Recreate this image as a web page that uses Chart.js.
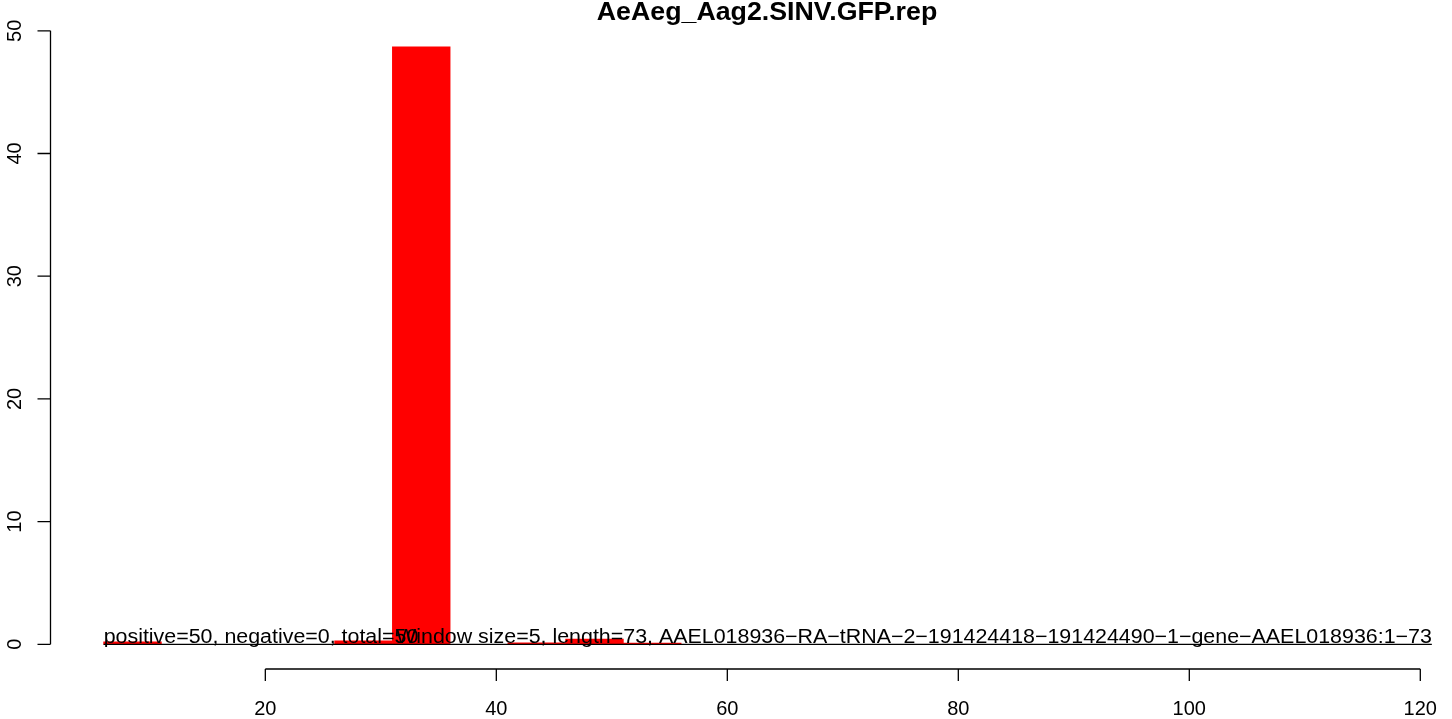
<!DOCTYPE html>
<html>
<head>
<meta charset="utf-8">
<script src="https://cdn.jsdelivr.net/npm/chart.js@4"></script>
<style>
  html, body { margin: 0; padding: 0; background: #fff; }
  #wrap { width: 1452px; height: 719px; }
</style>
</head>
<body>
<div id="wrap"><canvas id="chart" width="1452" height="719"></canvas></div>
<script>
// window start positions (size 5) and read counts per window
const windowStart = [6, 26, 31, 41, 46, 51];
const counts = [0.21, 0.29, 48.7, 0.12, 0.43, 0.1];
const windowSize = 5;
const seqEnd = 121;
const xTicks = [20, 40, 60, 80, 100, 120];
const yTicks = [0, 10, 20, 30, 40, 50];
const titleText = 'AeAeg_Aag2.SINV.GFP.rep';
const noteLeft = 'positive=50, negative=0, total=50';
const noteRight = 'Window size=5, length=73, AAEL018936\u2212RA\u2212tRNA\u22122\u2212191424418\u2212191424490\u22121\u2212gene\u2212AAEL018936:1\u221273';

const FONT = "'Liberation Sans', Arial, Helvetica, sans-serif";

const barData = windowStart.map((s, i) => ({ x: s + windowSize / 2, y: counts[i] }));

// text drawn slightly widened, like the original device font
function wideText(ctx, text, x, y, align, sx) {
    ctx.save();
    ctx.translate(x, y);
    ctx.scale(sx, 1);
    ctx.textAlign = align;
    ctx.fillText(text, 0, 0);
    ctx.restore();
}

// R-style axes, title and notes drawn on top using the chart scales
const rStyle = {
    id: 'rStyle',
    afterDatasetsDraw(chart) {
        const ctx = chart.ctx;
        const xs = chart.scales.x, ys = chart.scales.y;
        const left = chart.chartArea.left;
        ctx.save();
        ctx.strokeStyle = '#000';
        ctx.fillStyle = '#000';
        ctx.lineWidth = 1.3;

        // y axis
        const y0 = ys.getPixelForValue(yTicks[0]);
        const y1 = ys.getPixelForValue(yTicks[yTicks.length - 1]);
        ctx.beginPath();
        ctx.moveTo(left, y0); ctx.lineTo(left, y1);
        yTicks.forEach(t => {
            const p = ys.getPixelForValue(t);
            ctx.moveTo(left, p); ctx.lineTo(left - 13, p);
        });
        ctx.stroke();
        ctx.font = '20px ' + FONT;
        ctx.textAlign = 'center';
        ctx.textBaseline = 'alphabetic';
        yTicks.forEach(t => {
            const p = ys.getPixelForValue(t);
            ctx.save();
            ctx.translate(left - 30, p);
            ctx.rotate(-Math.PI / 2);
            ctx.fillText(String(t), 0, 0);
            ctx.restore();
        });

        // x axis
        const axisY = 669;
        ctx.beginPath();
        ctx.moveTo(xs.getPixelForValue(xTicks[0]), axisY);
        ctx.lineTo(xs.getPixelForValue(xTicks[xTicks.length - 1]), axisY);
        xTicks.forEach(t => {
            const p = xs.getPixelForValue(t);
            ctx.moveTo(p, axisY); ctx.lineTo(p, axisY + 12);
        });
        ctx.stroke();
        xTicks.forEach(t => {
            ctx.fillText(String(t), xs.getPixelForValue(t), 715);
        });

        // notes along the baseline
        const base = ys.getPixelForValue(0) - 1;
        ctx.font = '20px ' + FONT;
        wideText(ctx, noteLeft, xs.getPixelForValue(windowStart[0]), base, 'left', 1.07);
        wideText(ctx, noteRight, xs.getPixelForValue(seqEnd), base, 'right', 1.07);

        // title
        ctx.font = 'bold 25px ' + FONT;
        wideText(ctx, titleText, 767, 20, 'center', 1.07);
        ctx.restore();
    }
};

new Chart(document.getElementById('chart'), {
    type: 'bar',
    data: {
        datasets: [{
            type: 'line',
            data: [{ x: windowStart[0], y: 0 }, { x: seqEnd, y: 0 }],
            borderColor: '#000',
            borderWidth: 1.2,
            pointRadius: 0,
            clip: false,
            order: 0
        }, {
            data: barData,
            backgroundColor: '#ff0000',
            borderWidth: 0,
            barPercentage: 1,
            categoryPercentage: 1,
            clip: false,
            order: 1
        }]
    },
    options: {
        responsive: false,
        animation: false,
        events: [],
        layout: { padding: { left: 50.5, right: 8.6, top: 30.8, bottom: 74.7 } },
        plugins: { legend: { display: false }, tooltip: { enabled: false } },
        scales: {
            x: {
                type: 'linear',
                display: false,
                offset: false,
                min: 1.4,
                max: 122,
                ticks: { stepSize: 5, includeBounds: false }
            },
            y: {
                display: false,
                min: 0,
                max: 50
            }
        }
    },
    plugins: [rStyle]
});
</script>
</body>
</html>
